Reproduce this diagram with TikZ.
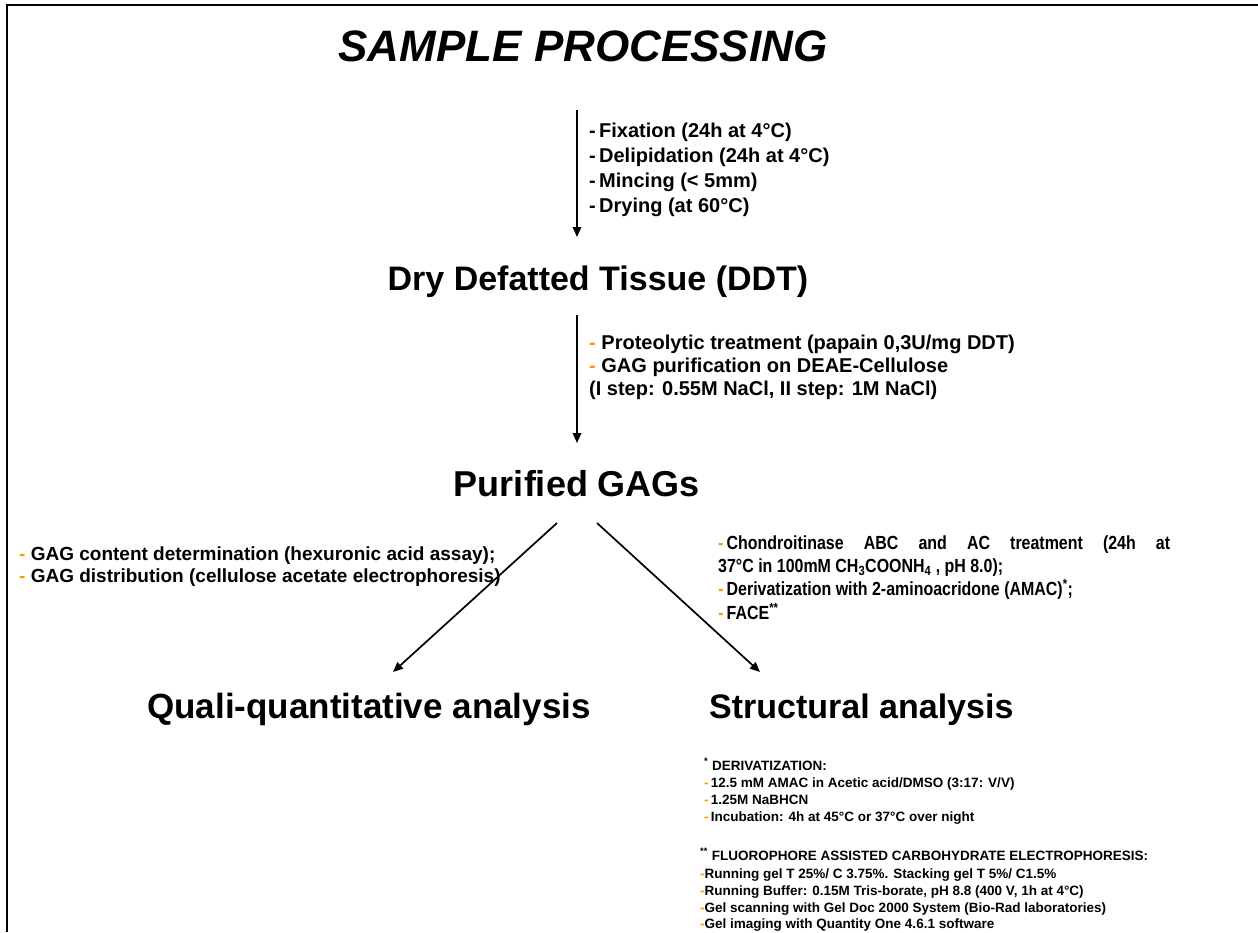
\documentclass[tikz,border=0pt]{standalone}
\usepackage{fontspec}
\setmainfont{Liberation Sans}
\newfontfamily\condfont[FakeStretch=0.84]{Liberation Sans}
\usetikzlibrary{arrows.meta}
\definecolor{dashor}{RGB}{255,153,0}
\newcommand{\od}{\textcolor{dashor}{-}}
\begin{document}
\begin{tikzpicture}[x=1pt,y=-1pt,
  arr/.style={line width=1.7pt,-{Triangle[length=10pt,width=8.5pt]}},
  big/.style={inner sep=0pt,font=\fontsize{34}{40}\selectfont\bfseries},
  steptxt/.style={inner sep=0pt,anchor=base west,font=\fontsize{20}{24}\selectfont\bfseries},
  lefttxt/.style={inner sep=0pt,anchor=base west,font=\fontsize{19}{23}\selectfont\bfseries},
  righttxt/.style={inner sep=0pt,anchor=base west,font=\condfont\fontsize{19}{23}\selectfont\bfseries},
  notetxt/.style={inner sep=0pt,anchor=base west,font=\fontsize{13.5}{16}\selectfont\bfseries}
]
\useasboundingbox (0,0) rectangle (1258,932);
\draw[line width=2.5pt] (7,932) -- (7,5) -- (1258,5);

\node[inner sep=0pt,anchor=base,font=\fontsize{44}{50}\selectfont\bfseries\itshape] (title) at (583,61) {SAMPLE PROCESSING};

% step block 1
\node[steptxt] (s1) at (589,137) {-\,Fixation (24h at 4°C)};
\node[steptxt] (s2) at (589,162) {-\,Delipidation (24h at 4°C)};
\node[steptxt] (s3) at (589,187) {-\,Mincing (< 5mm)};
\node[steptxt] (s4) at (589,212) {-\,Drying (at 60°C)};

\node[big,anchor=base] (ddt) at (598,290) {Dry Defatted Tissue (DDT)};

% step block 2
\node[steptxt] (p1) at (589,349) {\od\ Proteolytic treatment (papain 0,3U/mg DDT)};
\node[steptxt] (p2) at (589,372) {\od\ GAG purification on DEAE-Cellulose};
\node[steptxt] (p3) at (589,395) {(I step: 0.55M NaCl, II step: 1M NaCl)};

\node[big,anchor=base,font=\fontsize{36}{40}\selectfont\bfseries] (gags) at (577,496) {Purified GAGs};

% left block
\node[lefttxt] (l1) at (19,560) {\od\ GAG content determination (hexuronic acid assay);};
\node[lefttxt] (l2) at (19,582) {\od\ GAG distribution (cellulose acetate electrophoresis)};

% right block
\node[righttxt] (r1) at (718,549) {\makebox[452pt][s]{\od\,Chondroitinase ABC and AC treatment (24h at}};
\node[righttxt] (r2) at (718,572) {37°C in 100mM CH\textsubscript{3}COONH\textsubscript{4} , pH 8.0);};
\node[righttxt] (r3) at (718,595) {\od\,Derivatization with 2-aminoacridone (AMAC)\textsuperscript{*};};
\node[righttxt] (r4) at (718,619) {\od\,FACE\textsuperscript{**}};

\node[big,anchor=base,font=\fontsize{35}{40}\selectfont\bfseries] (quali) at (369,718) {Quali-quantitative analysis};
\node[big,anchor=base west] (struct) at (709,718) {Structural analysis};

% footnotes
\node[notetxt] (d0) at (704,770) {\textsuperscript{*} DERIVATIZATION:};
\node[notetxt] (d1) at (704,787) {\od\,12.5 mM AMAC in Acetic acid/DMSO (3:17: V/V)};
\node[notetxt] (d2) at (704,804) {\od\,1.25M NaBHCN};
\node[notetxt] (d3) at (704,821) {\od\,Incubation: 4h at 45°C or 37°C over night};

\node[notetxt] (f0) at (700,860) {\textsuperscript{**} FLUOROPHORE ASSISTED CARBOHYDRATE ELECTROPHORESIS:};
\node[notetxt] (f1) at (700,878) {\od Running gel T 25\%/ C 3.75\%. Stacking gel T 5\%/ C1.5\%};
\node[notetxt] (f2) at (700,895) {\od Running Buffer: 0.15M Tris-borate, pH 8.8 (400 V, 1h at 4°C)};
\node[notetxt] (f3) at (700,912) {\od Gel scanning with Gel Doc 2000 System (Bio-Rad laboratories)};
\node[notetxt] (f4) at (700,928) {\od Gel imaging with Quantity One 4.6.1 software};

% connectors
\coordinate (a1s) at (577,110);
\coordinate (a1e) at (577,237);
\coordinate (a2s) at (577,315);
\coordinate (a2e) at (577,443);
\coordinate (a3s) at (557,523);
\coordinate (a3e) at (393,672);
\coordinate (a4s) at (597,523);
\coordinate (a4e) at (760,672);
\draw[arr] (a1s) -- (a1e);
\draw[arr] (a2s) -- (a2e);
\draw[arr] (a3s) -- (a3e);
\draw[arr] (a4s) -- (a4e);
\end{tikzpicture}
\end{document}
